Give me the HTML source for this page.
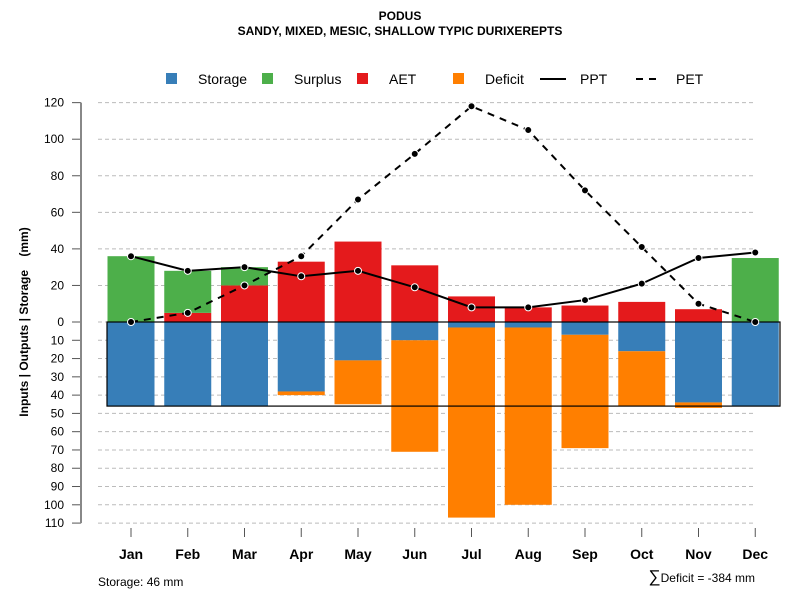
<!DOCTYPE html>
<html><head><meta charset="utf-8"><style>
body{margin:0;background:#fff}
svg text{font-family:"Liberation Sans",sans-serif}
</style></head><body>
<svg id="chart" width="800" height="600" xmlns="http://www.w3.org/2000/svg">
<text x="400" y="20" text-anchor="middle" font-size="12" font-weight="bold">PODUS</text>
<text x="400" y="35" text-anchor="middle" font-size="12" font-weight="bold">SANDY, MIXED, MESIC, SHALLOW TYPIC DURIXEREPTS</text>
<g id="grid"></g><g id="bars"></g><g id="box"></g><g id="lines"></g><g id="axes"></g>
<g id="legend">
<rect x="166" y="73" width="11" height="11" fill="#377eb8"/>
<text x="198" y="84" font-size="14">Storage</text>
<rect x="262" y="73" width="11" height="11" fill="#4daf4a"/>
<text x="294" y="84" font-size="14">Surplus</text>
<rect x="357" y="73" width="11" height="11" fill="#e41a1c"/>
<text x="389" y="84" font-size="14">AET</text>
<rect x="453" y="73" width="11" height="11" fill="#ff7f00"/>
<text x="485" y="84" font-size="14">Deficit</text>
<line x1="540" y1="79" x2="566" y2="79" stroke="#000" stroke-width="2"/>
<text x="580" y="84" font-size="14">PPT</text>
<line x1="636" y1="79" x2="662" y2="79" stroke="#000" stroke-width="2" stroke-dasharray="7,6"/>
<text x="676" y="84" font-size="14">PET</text>
</g>
<text transform="translate(28,322) rotate(-90)" text-anchor="middle" font-size="12" font-weight="bold" style="white-space:pre">Inputs | Outputs | Storage    (mm)</text>
<text x="98" y="586" font-size="12">Storage: 46 mm</text>
<text x="755" y="582" text-anchor="end" font-size="12"><tspan font-size="17">∑</tspan>Deficit = -384 mm</text>
</svg>
<script>
const months=["Jan","Feb","Mar","Apr","May","Jun","Jul","Aug","Sep","Oct","Nov","Dec"];
const ppt=[36,28,30,25,28,19,8,8,12,21,35,38];
const pet=[0,5,20,36,67,92,118,105,72,41,10,0];
const aet=[0,5,20,33,44,31,14,8,9,11,7,0];
const surplus=[36,23,10,0,0,0,0,0,0,0,0,35];
const storage=[46,46,46,38,21,10,3,3,7,16,44,46];
const deficit=[0,0,0,2,24,61,104,97,62,30,3,0];
const awc=46;
const posTicks=[0,20,40,60,80,100,120];
const negTicks=[10,20,30,40,50,60,70,80,90,100,110];
const NS="http://www.w3.org/2000/svg";
const y=v=>322-v*1.828;
const x=i=>131+i*56.75;
const bw=47;
function mk(p,t,a){const e=document.createElementNS(NS,t);for(const k in a)e.setAttribute(k,a[k]);document.getElementById(p).appendChild(e);return e;}
const ticks=posTicks.map(v=>[v,v]).concat(negTicks.map(v=>[-v,v]));
ticks.forEach(([v,l])=>{
  const g=mk("grid","line",{x1:98,x2:756,y1:y(v),y2:y(v),stroke:"#bbb","stroke-dasharray":"4,3"});
  
  
  const t=mk("axes","line",{x1:72,x2:81,y1:y(v),y2:y(v),stroke:"#555"});
  
  
  const tx=mk("axes","text",{x:64,y:y(v)+4,"text-anchor":"end","font-size":12});
  tx.textContent=l;
  
  
});
const ax=mk("axes","line",{x1:81,x2:81,y1:y(120),y2:y(-110),stroke:"#888","stroke-width":2});


months.forEach((m,i)=>{
  const L=x(i)-bw/2;
  const r1=mk("bars","rect",{x:L,y:y(aet[i]),width:bw,height:aet[i]*1.828,fill:"#e41a1c"});
  
  
  const r2=mk("bars","rect",{x:L,y:y(aet[i]+surplus[i]),width:bw,height:surplus[i]*1.828,fill:"#4daf4a"});
  
  
  const r3=mk("bars","rect",{x:L,y:y(0),width:bw,height:storage[i]*1.828,fill:"#377eb8"});
  
  
  const r4=mk("bars","rect",{x:L,y:y(-storage[i]),width:bw,height:deficit[i]*1.828,fill:"#ff7f00"});
  
  
  const t=mk("axes","line",{x1:x(i),x2:x(i),y1:528,y2:537,stroke:"#555"});
  
  
  const tx=mk("axes","text",{x:x(i),y:559,"text-anchor":"middle","font-size":14,"font-weight":"bold"});
  tx.textContent=m;
  
  
});
const bx=mk("box","rect",{x:107,y:y(0),width:673,height:awc*1.828,fill:"none",stroke:"#000","stroke-width":1.2});


function series(arr,name,dash){
  const p=mk("lines","polyline",{points:arr.map((v,i)=>x(i)+","+y(v)).join(" "),fill:"none",stroke:"#000","stroke-width":2,"stroke-dasharray":dash});
  
  
  arr.forEach((v,i)=>{
    const c=mk("lines","circle",{cx:x(i),cy:y(v),r:3.5,fill:"#000",stroke:"#fff","stroke-width":1});
    
    
  });
}
series(pet,"pet","7,6");
series(ppt,"ppt","none");
</script>
</body></html>
